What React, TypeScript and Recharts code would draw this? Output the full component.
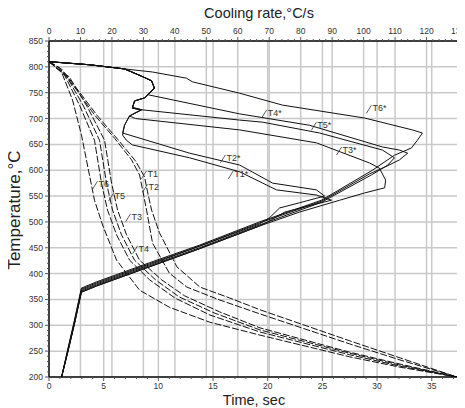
import React from "react";
import { LineChart, Line, XAxis, YAxis, ReferenceLine, ReferenceDot } from "recharts";

// ---- Tick values ----
const timeMajor = [0, 5, 10, 15, 20, 25, 30, 35];
const timeTicks = Array.from({ length: 38 }, (_, i) => i);
const rateMajor = [0, 10, 20, 30, 40, 50, 60, 70, 80, 90, 100, 110, 120, 130];
const rateTicks = Array.from({ length: 66 }, (_, i) => i * 2);
const tempMajor = [200, 250, 300, 350, 400, 450, 500, 550, 600, 650, 700, 750, 800, 850];
const tempTicks = Array.from({ length: 66 }, (_, i) => 200 + i * 10);

// ---- Cooling curves: [time s, temperature C] ----
const coolT6 = [[0,810],[1.14,790],[2.15,736],[2.97,668],[3.61,600],[4.16,542],[4.9,494],[6.18,426],[8.28,368],[11.0,335],[14.7,306],[19.3,281],[27.5,239],[32.1,219],[37.3,200]];
const coolT5 = [[0,810],[1.42,784],[2.79,726],[4.16,658],[4.8,575],[5.35,523],[6.18,475],[7.37,426],[9.2,388],[11.5,353],[14.7,320],[19.3,287],[27.5,243],[32.1,221],[37.3,200]];
const coolT3 = [[0,810],[1.6,782],[3.16,724],[4.62,658],[5.26,575],[5.81,523],[6.63,475],[7.82,426],[9.74,388],[11.9,355],[15.1,324],[19.3,291],[27.5,246],[32.1,223],[37.3,200]];
const coolT4 = [[0,810],[1.88,780],[3.52,722],[5.08,658],[5.72,575],[6.27,523],[7.09,475],[8.28,426],[10.3,388],[12.4,357],[15.6,326],[19.3,295],[27.5,248],[32.1,225],[37.3,200]];
const coolT1 = [[0,810],[0.96,798],[2.61,753],[4.16,707],[5.99,662],[7.55,620],[8.28,591],[8.56,562],[8.92,523],[9.47,459],[11.0,401],[12.6,374],[15.6,349],[19.3,322],[27.5,264],[32.1,233],[37.3,200]];
const coolT2 = [[0,810],[1.14,796],[2.79,751],[4.44,705],[6.27,660],[7.91,618],[8.74,587],[9.01,558],[9.38,523],[10.1,479],[11.7,413],[13.8,374],[16.5,353],[19.3,330],[27.5,270],[32.1,237],[37.3,200]];

// ---- Cooling-rate curves: [rate C/s, temperature C] ----
const rateT6 = [[0,810],[12.9,804],[24,796],[32.9,790],[43.7,778],[45.6,771],[60.6,749],[74.2,726],[100.3,701],[115.5,678],[118.7,672],[117.1,658],[115.2,643],[109.8,629],[102.8,600],[86.6,542],[66.9,500],[47.8,455],[31.9,421],[15.1,384],[10.3,372],[8.1,310],[5.9,252],[4,200]];
const rateT5 = [[0,810],[12.9,804],[24,796],[29.4,782],[32.6,773],[33.5,759],[31.5,746],[60.6,709],[82.8,687],[106,645],[111.4,639],[114,633],[111.4,620],[106.7,606],[101.9,593],[86.6,540],[66.9,498],[47.8,453],[31.9,419],[15.1,382],[10.3,370],[8.1,308],[5.9,250],[4,200]];
const rateT4 = [[0,810],[12.9,804],[24,796],[29.4,782],[32.6,773],[33.5,759],[30.4,740],[27.2,734],[26.5,722],[29.4,717],[60.6,697],[67.9,693],[86,672],[106,639],[109.8,624],[107.7,610],[102.5,591],[86.6,538],[66.9,494],[47.8,450],[31.9,415],[15.1,378],[10.3,366],[8.1,304],[5.9,248],[4,200]];
const rateT3 = [[0,810],[12.9,804],[24,796],[29.4,782],[32.6,773],[33.5,759],[30.4,740],[27.2,734],[26.5,720],[29.4,717],[25.6,705],[27.5,700],[60.6,678],[85,653],[101.9,614],[105,604],[107,581],[106.7,566],[100.3,556],[92.4,542],[79.6,519],[66.9,492],[47.8,448],[31.9,413],[15.1,376],[10.3,364],[8.1,303],[5.9,246],[4,200]];
const rateT2 = [[0,810],[12.9,804],[24,796],[29.4,782],[32.6,773],[33.5,759],[30.4,740],[27.2,734],[26.5,720],[29.4,717],[25.6,705],[24,687],[23.4,672],[44.7,633],[60.6,610],[71.1,575],[85,562],[87.6,550],[79.6,537],[73.3,527],[70.1,508],[66.9,496],[47.8,453],[31.9,417],[15.1,380],[10.3,368],[8.1,306],[5.9,248],[4,200]];
const rateT1 = [[0,810],[12.9,804],[24,796],[29.4,782],[32.6,773],[33.5,759],[30.4,740],[27.2,734],[26.5,720],[29.4,717],[25.6,705],[24,687],[23.4,668],[24.6,658],[26.5,649],[44.7,624],[60.6,597],[72.3,562],[85,552],[89.8,542],[81.2,529],[74.9,519],[70.7,504],[66.9,492],[47.8,448],[31.9,413],[15.1,376],[10.3,364],[8.1,303],[5.9,246],[4,200]];

// ---- Curve labels ----
const coolLabels = [
  { text: "T6", x: 4.53, y: 573 },
  { text: "T5", x: 6.0, y: 550 },
  { text: "T3", x: 7.55, y: 510 },
  { text: "T4", x: 8.19, y: 448 },
  { text: "T1", x: 9.0, y: 593 },
  { text: "T2", x: 9.1, y: 567 },
];
const rateLabels = [
  { text: "T4*", x: 69.5, y: 711 },
  { text: "T5*", x: 85.3, y: 687 },
  { text: "T6*", x: 102.8, y: 720 },
  { text: "T3*", x: 93.3, y: 639 },
  { text: "T2*", x: 56.4, y: 624 },
  { text: "T1*", x: 58.9, y: 593 },
];

const coolSeries = [coolT6, coolT5, coolT3, coolT4, coolT1, coolT2];
const rateSeries = [rateT6, rateT5, rateT4, rateT3, rateT2, rateT1];

const toPts = (a: number[][]) => a.map(([x, y]) => ({ x, y }));

const FONT = '"Liberation Sans", Arial, sans-serif';
const GRID = "#c9c9c9";

const makeTick = (majors: number[], side: "bottom" | "top" | "left") => (props: any) => {
  const { x, y, payload } = props;
  const v = payload.value;
  const major = majors.includes(v);
  const len = major ? 4 : 2;
  if (side === "bottom") {
    return (
      <g>
        <line x1={x} y1={y} x2={x} y2={y + len} stroke="#555" strokeWidth={1} />
        {major && (
          <text x={x} y={y + 12} textAnchor="middle" fontSize={8.5} fill="#333" fontFamily={FONT}>{v}</text>
        )}
      </g>
    );
  }
  if (side === "top") {
    return (
      <g>
        <line x1={x} y1={y} x2={x} y2={y - len} stroke="#555" strokeWidth={1} />
        {major && (
          <text x={x} y={y - 7} textAnchor="middle" fontSize={8.5} fill="#333" fontFamily={FONT}>{v}</text>
        )}
      </g>
    );
  }
  return (
    <g>
      <line x1={x} y1={y} x2={x - len} y2={y} stroke="#555" strokeWidth={1} />
      {major && (
        <text x={x - 6} y={y + 3} textAnchor="end" fontSize={8.5} fill="#333" fontFamily={FONT}>{v}</text>
      )}
    </g>
  );
};

const labelShape = (text: string) => (p: any) => {
  const { cx, cy } = p;
  return (
    <g>
      <line x1={cx - 6} y1={cy + 5} x2={cx - 1} y2={cy - 3} stroke="#333" strokeWidth={0.8} />
      <text x={cx} y={cy + 3} fontSize={9} fill="#333" fontFamily={FONT}>{text}</text>
    </g>
  );
};

export default function App() {
  return (
    <div style={{ position: "relative", width: 457, height: 400, fontFamily: FONT }}>
      <LineChart width={457} height={400} margin={{ top: 13, right: 7, bottom: 11, left: 6 }}>
        <XAxis
          xAxisId="time"
          dataKey="x"
          type="number"
          domain={[0, 37.4]}
          ticks={timeTicks}
          interval={0}
          height={20}
          tickSize={0}
          tickMargin={0}
          tickLine={false}
          tick={makeTick(timeMajor, "bottom")}
          axisLine={{ stroke: "#000", strokeWidth: 1.5 }}
          allowDataOverflow
        />
        <XAxis
          xAxisId="rate"
          dataKey="x"
          type="number"
          orientation="top"
          domain={[0, 130]}
          ticks={rateTicks}
          interval={0}
          height={20}
          tickSize={0}
          tickMargin={0}
          tickLine={false}
          tick={makeTick(rateMajor, "top")}
          axisLine={{ stroke: "#000", strokeWidth: 1.5 }}
          allowDataOverflow
        />
        <YAxis
          dataKey="y"
          type="number"
          domain={[200, 850]}
          ticks={tempTicks}
          interval={0}
          width={35}
          tickSize={0}
          tickMargin={0}
          tickLine={false}
          tick={makeTick(tempMajor, "left")}
          axisLine={{ stroke: "#000", strokeWidth: 1.5 }}
          allowDataOverflow
        />
        {tempMajor.filter((v) => v > 200 && v < 850).map((v) => (
          <ReferenceLine key={"h" + v} y={v} xAxisId="time" stroke={GRID} strokeWidth={1.5} />
        ))}
        {timeMajor.filter((v) => v > 0).map((v) => (
          <ReferenceLine key={"vt" + v} x={v} xAxisId="time" stroke={GRID} strokeWidth={1.5} />
        ))}
        {rateMajor.filter((v) => v > 0 && v < 130).map((v) => (
          <ReferenceLine key={"vr" + v} x={v} xAxisId="rate" stroke={GRID} strokeWidth={1.5} />
        ))}
        {coolSeries.map((s, i) => (
          <Line
            key={"c" + i}
            xAxisId="time"
            data={toPts(s)}
            dataKey="y"
            type="linear"
            dot={false}
            stroke="#111"
            strokeWidth={1}
            strokeDasharray="7 2"
            isAnimationActive={false}
          />
        ))}
        {rateSeries.map((s, i) => (
          <Line
            key={"r" + i}
            xAxisId="rate"
            data={toPts(s)}
            dataKey="y"
            type="linear"
            dot={false}
            stroke="#111"
            strokeWidth={1}
            isAnimationActive={false}
          />
        ))}
        {coolLabels.map((l) => (
          <ReferenceDot key={l.text} xAxisId="time" x={l.x} y={l.y} r={0} shape={labelShape(l.text)} />
        ))}
        {rateLabels.map((l) => (
          <ReferenceDot key={l.text} xAxisId="rate" x={l.x} y={l.y} r={0} shape={labelShape(l.text)} />
        ))}
      </LineChart>
      <div style={{ position: "absolute", left: 251, top: -3, transform: "translateX(-50%)", fontSize: 14.5, lineHeight: "16px", whiteSpace: "nowrap", color: "#222" }}>
        Cooling rate,°C/s
      </div>
      <div style={{ position: "absolute", left: 246, top: 385, transform: "translateX(-50%)", fontSize: 14.5, lineHeight: "15px", whiteSpace: "nowrap", color: "#222" }}>
        Time, sec
      </div>
      <div style={{ position: "absolute", left: 7, top: 202, transform: "translate(-50%, -50%) rotate(-90deg)", fontSize: 17, lineHeight: "18px", whiteSpace: "nowrap", color: "#222" }}>
        Temperature,°C
      </div>
    </div>
  );
}
